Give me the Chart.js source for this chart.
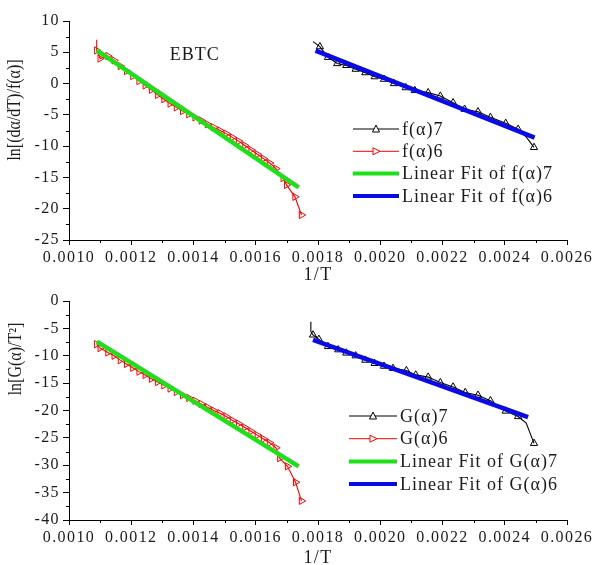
<!DOCTYPE html>
<html><head><meta charset="utf-8">
<script src="https://cdn.jsdelivr.net/npm/chart.js@4.4.1/dist/chart.umd.min.js"></script>
<style>
html,body{margin:0;padding:0;background:#fff;width:593px;height:565px;overflow:hidden}
.box{position:absolute;left:0;width:593px}
</style></head><body>
<div class="box" style="top:0;height:282px"><canvas id="c1" width="593" height="282"></canvas></div>
<div class="box" style="top:282px;height:283px"><canvas id="c2" width="593" height="283"></canvas></div>
<script>
// ---------- tick values ----------
const xTickVals = [0.0010, 0.0012, 0.0014, 0.0016, 0.0018, 0.0020, 0.0022, 0.0024, 0.0026];
const yTicksTop = [10, 5, 0, -5, -10, -15, -20, -25];
const yTicksBottom = [0, -5, -10, -15, -20, -25, -30, -35, -40];

// ---------- top panel: ln[(dα/dT)/f(α)] ----------
const f6X = [0.001089,0.001089,0.001100,0.001125,0.001145,0.001165,0.001185,0.001205,0.001225,0.001245,
             0.001265,0.001285,0.001305,0.001325,0.001345,0.001365,0.001385,0.001405,0.001425,0.001445,
             0.001465,0.001485,0.001505,0.001525,0.001545,0.001565,0.001585,0.001605,0.001625,0.001645,
             0.001665,0.001688,0.001699,0.001726,0.001747];
const f6Y = [7.0,5.3,4.0,4.4,3.7,2.8,2.0,1.2,0.4,-0.3,
             -1.0,-1.8,-2.5,-3.2,-3.8,-4.4,-4.9,-5.4,-5.9,-6.5,
             -7.0,-7.5,-8.0,-8.6,-9.2,-9.9,-10.6,-11.3,-12.0,-12.7,
             -13.6,-15.1,-16.2,-18.1,-21.0];
const f7X = [0.001784,0.001806,0.001832,0.001862,0.001891,0.001921,0.001952,0.001982,0.002012,0.002044,
             0.002082,0.002111,0.002154,0.002193,0.002234,0.002271,0.002314,0.002354,0.002403,0.002443,
             0.002470,0.002494];
const f7Y = [6.7,5.9,4.2,3.2,2.9,2.3,1.75,1.1,0.7,0.0,
             -0.65,-1.1,-1.45,-2.0,-3.05,-4.1,-4.5,-5.4,-6.35,-7.3,
             -8.6,-10.2];
const fitF7X = [0.00109, 0.001738];
const fitF7Y = [5.3, -16.6];
const fitF6X = [0.001792, 0.002496];
const fitF6Y = [5.26, -8.64];

// ---------- bottom panel: ln[G(α)/T²] ----------
const g6X = [0.001089,0.001100,0.001125,0.001145,0.001165,0.001185,0.001205,0.001225,0.001245,0.001265,
             0.001285,0.001305,0.001325,0.001345,0.001365,0.001385,0.001405,0.001425,0.001445,0.001465,
             0.001485,0.001505,0.001525,0.001545,0.001565,0.001585,0.001605,0.001625,0.001645,0.001665,
             0.001677,0.001702,0.001728,0.001747];
const g6Y = [-7.9,-8.6,-9.4,-10.0,-10.8,-11.5,-12.2,-12.9,-13.5,-14.2,
             -14.8,-15.4,-16.0,-16.6,-17.2,-17.7,-18.2,-18.8,-19.4,-20.0,
             -20.5,-21.1,-21.8,-22.4,-23.1,-23.8,-24.5,-25.2,-25.9,-26.8,
             -28.7,-30.2,-33.1,-36.5];
const g7X = [0.001777,0.001777,0.001784,0.001803,0.001832,0.001865,0.001891,0.001921,0.001952,0.001982,
             0.002012,0.002041,0.002084,0.002114,0.002154,0.002193,0.002234,0.002273,0.002314,0.002354,
             0.002403,0.002443,0.002469,0.002494];
const g7Y = [-3.8,-5.6,-6.2,-7.0,-8.3,-8.9,-9.5,-10.0,-10.8,-11.4,
             -11.9,-12.3,-12.7,-13.5,-13.9,-14.9,-15.7,-16.7,-17.2,-18.2,
             -20.1,-21.1,-22.3,-26.0];
const fitG7X = [0.00109, 0.001738];
const fitG7Y = [-7.42, -30.2];
const fitG6X = [0.001784, 0.002475];
const fitG6Y = [-7.1, -21.2];

// ---------- styling ----------
const FONT = "'Liberation Serif','Times New Roman',serif";
const TXT = '#1a1a1a';
const RED = '#ff0000', BLK = '#000000', GRN = '#1ee01a', BLU = '#0a0ae6';

const pts = (xs, ys) => xs.map((x, i) => ({x, y: ys[i]}));

function dataSet(label, xs, ys, color, rot, unmarked) {
  return {
    label, data: pts(xs, ys), borderColor: color, borderWidth: 1.1, tension: 0,
    pointStyle: 'triangle', pointRotation: rot,
    pointRadius: c => unmarked.includes(c.dataIndex) ? 0 : 4.2,
    pointBorderColor: color, pointBackgroundColor: 'rgba(0,0,0,0)', pointBorderWidth: 1,
    order: 2
  };
}
function fitSet(label, xs, ys, color) {
  return { label, data: pts(xs, ys), borderColor: color, borderWidth: 4.5, pointRadius: 0, tension: 0, order: 1 };
}

const deco = {
  id: 'deco',
  beforeDraw(chart) { chart.ctx.letterSpacing = '1.4px'; },
  afterDraw(chart, args, o) {
    const ctx = chart.ctx, xs = chart.scales.x, ys = chart.scales.y;
    ctx.save();
    ctx.strokeStyle = '#000'; ctx.lineWidth = 1;
    const xt = xs.ticks.map(t => t.value);
    ctx.beginPath();
    for (let i = 0; i < xt.length - 1; i++) {
      const px = Math.round(xs.getPixelForValue((xt[i] + xt[i + 1]) / 2)) + 0.5;
      ctx.moveTo(px, xs.top); ctx.lineTo(px, xs.top + 3);
    }
    const yt = ys.ticks.map(t => t.value);
    for (let i = 0; i < yt.length - 1; i++) {
      const py = Math.round(ys.getPixelForValue((yt[i] + yt[i + 1]) / 2)) + 0.5;
      ctx.moveTo(ys.right - 3, py); ctx.lineTo(ys.right, py);
    }
    ctx.stroke();
    ctx.restore();

    // y title
    ctx.save();
    ctx.letterSpacing = '0px';
    ctx.translate(o.yTitleX, o.yTitleY);
    ctx.rotate(-Math.PI / 2);
    ctx.scale(1, 1.15);
    ctx.font = '16px ' + FONT; ctx.fillStyle = TXT;
    ctx.textAlign = 'center'; ctx.textBaseline = 'middle';
    ctx.fillText(o.yTitle, 0, 0);
    ctx.restore();

    // panel label
    if (o.label) {
      ctx.save();
      ctx.letterSpacing = '1px';
      ctx.font = '18px ' + FONT; ctx.fillStyle = TXT;
      ctx.textAlign = 'center'; ctx.textBaseline = 'middle';
      ctx.fillText(o.label.text, xs.getPixelForValue(o.label.x), ys.getPixelForValue(o.label.y));
      ctx.restore();
    }

    // legend
    const L = o.legend;
    ctx.save();
    ctx.letterSpacing = '1px';
    ctx.font = '18px ' + FONT;
    ctx.textAlign = 'left'; ctx.textBaseline = 'middle';
    chart.data.datasets.forEach((ds, k) => {
      const y = L.y0 + k * L.dy;
      ctx.strokeStyle = ds.borderColor;
      ctx.lineWidth = ds.order === 1 ? 4 : 1;
      ctx.beginPath(); ctx.moveTo(L.x1, y); ctx.lineTo(L.x2, y); ctx.stroke();
      if (ds.order !== 1) {
        const cx = (L.x1 + L.x2) / 2;
        ctx.lineWidth = 1;
        ctx.fillStyle = '#fff';
        ctx.beginPath();
        if (ds.pointRotation === 90) {
          ctx.moveTo(cx + 4, y); ctx.lineTo(cx - 3, y - 3.5); ctx.lineTo(cx - 3, y + 3.5);
        } else {
          ctx.moveTo(cx, y - 4); ctx.lineTo(cx + 3.5, y + 3); ctx.lineTo(cx - 3.5, y + 3);
        }
        ctx.closePath(); ctx.fill(); ctx.stroke();
      }
      ctx.fillStyle = TXT;
      ctx.fillText(ds.label, L.x2 + 3, y + 1);
    });
    ctx.restore();
  }
};

function makeChart(id, datasets, yMin, yMax, yTicks, padTop, axisH, deco_opts) {
  return new Chart(document.getElementById(id), {
    type: 'line',
    data: { datasets },
    options: {
      responsive: false, animation: false, devicePixelRatio: 1,
      layout: { padding: { left: 0, right: 26, top: padTop, bottom: 0 } },
      plugins: { legend: { display: false }, tooltip: { enabled: false }, deco: deco_opts },
      scales: {
        x: {
          type: 'linear', min: 0.0010, max: 0.0026, position: 'bottom',
          afterBuildTicks: s => { s.ticks = xTickVals.map(v => ({value: v})); },
          afterFit: s => { s.height = axisH; },
          ticks: { color: TXT, font: {family: FONT, size: 16}, padding: 3, maxRotation: 0, autoSkip: false,
                   callback: v => Number(v).toFixed(4) },
          grid: { drawOnChartArea: false, drawTicks: true, tickLength: 5, color: '#000', lineWidth: 1 },
          border: { display: true, color: '#000', width: 1 },
          title: { display: true, text: '1/T', color: TXT, font: {family: FONT, size: 18}, padding: {top: 0, bottom: -4} }
        },
        y: {
          type: 'linear', min: yMin, max: yMax, position: 'left',
          afterBuildTicks: s => { s.ticks = yTicks.map(v => ({value: v})); },
          afterFit: s => { s.width = 69; },
          ticks: { color: TXT, font: {family: FONT, size: 16}, padding: 3, autoSkip: false, callback: v => String(v) },
          grid: { drawOnChartArea: false, drawTicks: true, tickLength: 6, color: '#000', lineWidth: 1 },
          border: { display: true, color: '#000', width: 1 },
          title: { display: false }
        }
      }
    },
    plugins: [deco]
  });
}

makeChart('c1', [
  dataSet('f(α)7', f7X, f7Y, BLK, 0, [0, 20]),
  dataSet('f(α)6', f6X, f6Y, RED, 90, [0]),
  fitSet('Linear Fit of f(α)7', fitF7X, fitF7Y, GRN),
  fitSet('Linear Fit of f(α)6', fitF6X, fitF6Y, BLU)
], -25, 10, yTicksTop, 21, 42, {
  yTitle: 'ln[(dα/dT)/f(α)]', yTitleX: 15, yTitleY: 110,
  label: {text: 'EBTC', x: 0.001404, y: 4.57},
  legend: {x1: 353, x2: 399, y0: 129, dy: 22.3}
});

makeChart('c2', [
  dataSet('G(α)7', g7X, g7Y, BLK, 0, [0, 1, 22]),
  dataSet('G(α)6', g6X, g6Y, RED, 90, []),
  fitSet('Linear Fit of G(α)7', fitG7X, fitG7Y, GRN),
  fitSet('Linear Fit of G(α)6', fitG6X, fitG6Y, BLU)
], -40, 0, yTicksBottom, 19, 45, {
  yTitle: 'ln[G(α)/T²]', yTitleX: 16, yTitleY: 77,
  legend: {x1: 349, x2: 397, y0: 134, dy: 22.7}
});
</script>
</body></html>
